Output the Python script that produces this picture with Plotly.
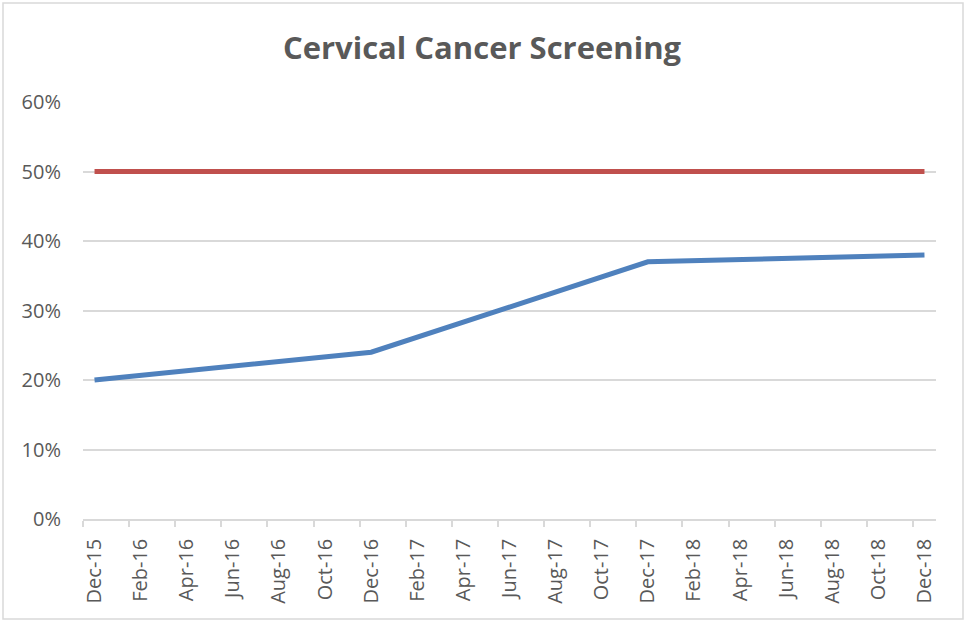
import plotly.graph_objects as go

# Month slots on the axis (one per month, Dec-15 .. Dec-18)
month_labels = ["Dec-15", "Jan-16", "Feb-16", "Mar-16", "Apr-16", "May-16", "Jun-16", "Jul-16",
                "Aug-16", "Sep-16", "Oct-16", "Nov-16", "Dec-16", "Jan-17", "Feb-17", "Mar-17",
                "Apr-17", "May-17", "Jun-17", "Jul-17", "Aug-17", "Sep-17", "Oct-17", "Nov-17",
                "Dec-17", "Jan-18", "Feb-18", "Mar-18", "Apr-18", "May-18", "Jun-18", "Jul-18",
                "Aug-18", "Sep-18", "Oct-18", "Nov-18", "Dec-18"]
tick_labels = month_labels[::2]

# Series
screening_dates = ["Dec-15", "Dec-16", "Dec-17", "Dec-18"]
screening_values = [0.20, 0.24, 0.37, 0.38]
target_dates = ["Dec-15", "Dec-18"]
target_values = [0.50, 0.50]

idx = {m: i for i, m in enumerate(month_labels)}

fig = go.Figure()
fig.add_trace(go.Scatter(x=[idx[d] for d in target_dates], y=target_values, mode="lines",
                         line=dict(color="#c0504d", width=5), name="Goal", hoverinfo="y"))
fig.add_trace(go.Scatter(x=[idx[d] for d in screening_dates], y=screening_values, mode="lines",
                         line=dict(color="#4f81bd", width=5), name="Screening", hoverinfo="y"))

W, H = 964, 622
ml, mr, mt, mb = 83, 28, 102, 103
pw, ph = W - ml - mr, H - mt - mb

fig.update_layout(
    width=W, height=H,
    margin=dict(l=ml, r=mr, t=mt, b=mb),
    paper_bgcolor="white", plot_bgcolor="white",
    showlegend=False,
    font=dict(family="Open Sans, sans-serif", color="#595959", size=20),
    title=dict(text="<b>Cervical Cancer Screening</b>", x=0.5, xanchor="center",
               y=1 - 48 / H, yanchor="middle",
               font=dict(size=31, color="#595959", family="Open Sans, sans-serif")),
    xaxis=dict(
        range=[-0.5, len(month_labels) - 0.5],
        tickmode="array",
        tickvals=[idx[t] for t in tick_labels],
        ticktext=tick_labels,
        tickangle=-90,
        ticks="",
        ticklabelstandoff=10,
        showgrid=False, zeroline=False,
        showline=True, linecolor="#d9d9d9", linewidth=1.5,
        minor=dict(ticks="outside", tick0=-0.5, dtick=2, ticklen=6,
                   tickcolor="#d9d9d9", tickwidth=1.5, showgrid=False),
        tickfont=dict(size=20, color="#595959"),
    ),
    yaxis=dict(
        range=[0, 0.6],
        dtick=0.1,
        tickformat=".0%",
        showgrid=True, gridcolor="#d9d9d9", gridwidth=1.5,
        zeroline=False, showline=False,
        ticks="", ticklabelstandoff=21,
        tickfont=dict(size=20, color="#595959"),
    ),
    shapes=[dict(type="rect", xref="paper", yref="paper",
                 x0=(3 - ml) / pw, x1=(963 - ml) / pw,
                 y0=(H - mb - 619) / ph, y1=(H - mb - 3) / ph,
                 line=dict(color="#d9d9d9", width=1.5), fillcolor="rgba(0,0,0,0)",
                 layer="below")],
)

fig.write_html("out.html",
               config={"displayModeBar": False},
               post_script="document.body.style.margin='0';document.body.style.overflow='hidden';")
